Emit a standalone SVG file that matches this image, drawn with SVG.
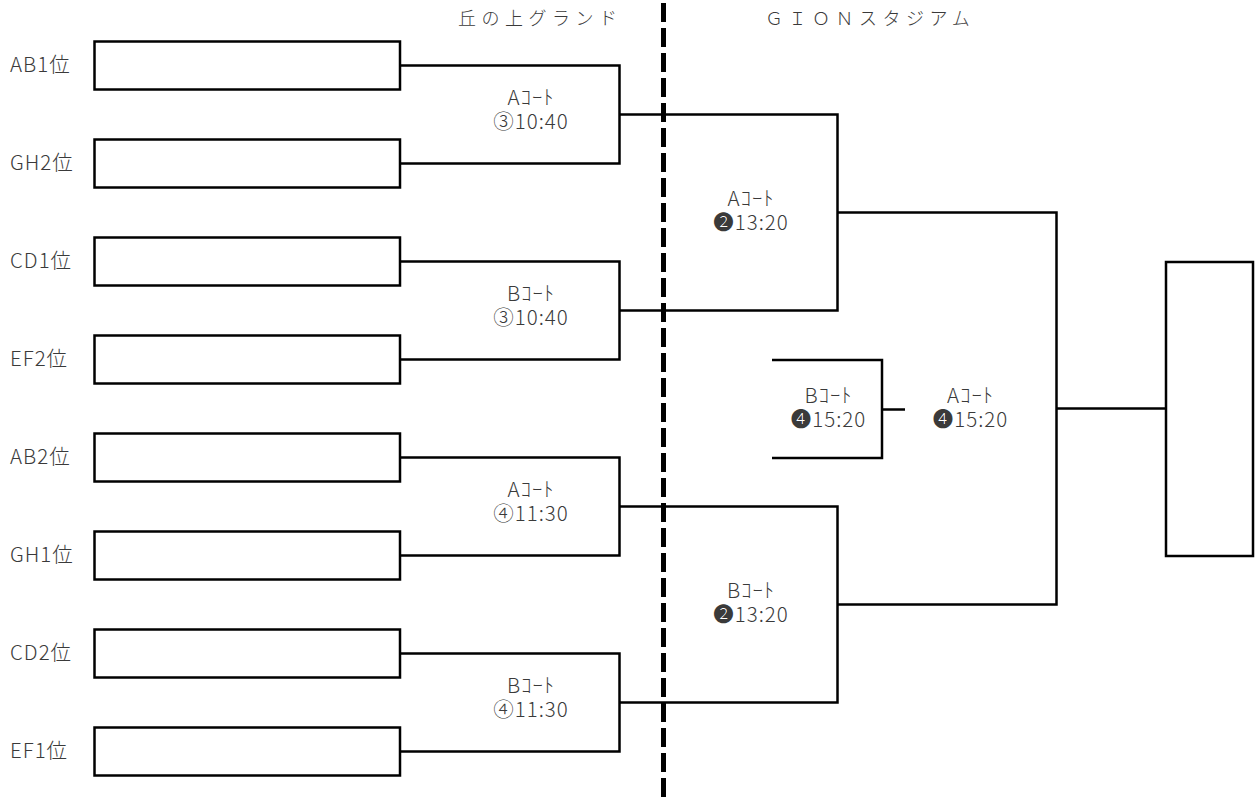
<svg xmlns="http://www.w3.org/2000/svg" width="1255" height="803" viewBox="0 0 1255 803">
<style>
.box{fill:#fff;stroke:#000;stroke-width:2.5}
.ln{fill:none;stroke:#000;stroke-width:2.5}
.dash{fill:none;stroke:#000;stroke-width:5;stroke-dasharray:19 6}
text{font-family:"Noto Sans CJK JP","Noto Sans",sans-serif;fill:#3a3a3a;font-size:20.5px;letter-spacing:1px;font-weight:300}
.lab{text-anchor:start}
.c{text-anchor:middle}
.hd{font-size:18px;letter-spacing:5.5px}
</style>
<rect width="1255" height="803" fill="#fff"/>
<g id="headers">
<text class="hd" x="458" y="25">丘の上グランド</text>
<text class="hd" x="765" y="25">ＧＩＯＮスタジアム</text>
</g>
<g id="connectors">
<path class="dash" d="M663.5 3 V803"/>
<path class="ln" d="M400 65.5 H619.5 V163.5 H400"/>
<path class="ln" d="M400 261.5 H619.5 V359.5 H400"/>
<path class="ln" d="M400 457.5 H619.5 V555.5 H400"/>
<path class="ln" d="M400 653.5 H619.5 V751.5 H400"/>
<path class="ln" d="M619.5 114.5 H837.5 V310.5 H619.5"/>
<path class="ln" d="M619.5 506.5 H837.5 V702.5 H619.5"/>
<path class="ln" d="M837.5 212.5 H1056.5 V604.5 H837.5"/>
<path class="ln" d="M1056.5 408.5 H1166"/>
<path class="ln" d="M772 360 H882 V458 H772"/>
<path class="ln" d="M882 409.5 H905"/>
</g>
<g id="team-AB1"><rect class="box" x="94.5" y="41.5" width="305.5" height="48"/><text class="lab" x="10" y="72">AB1位</text></g>
<g id="team-GH2"><rect class="box" x="94.5" y="139.5" width="305.5" height="48"/><text class="lab" x="10" y="170">GH2位</text></g>
<g id="team-CD1"><rect class="box" x="94.5" y="237.5" width="305.5" height="48"/><text class="lab" x="10" y="268">CD1位</text></g>
<g id="team-EF2"><rect class="box" x="94.5" y="335.5" width="305.5" height="48"/><text class="lab" x="10" y="366">EF2位</text></g>
<g id="team-AB2"><rect class="box" x="94.5" y="433.5" width="305.5" height="48"/><text class="lab" x="10" y="464">AB2位</text></g>
<g id="team-GH1"><rect class="box" x="94.5" y="531.5" width="305.5" height="48"/><text class="lab" x="10" y="562">GH1位</text></g>
<g id="team-CD2"><rect class="box" x="94.5" y="629.5" width="305.5" height="48"/><text class="lab" x="10" y="660">CD2位</text></g>
<g id="team-EF1"><rect class="box" x="94.5" y="727.5" width="305.5" height="48"/><text class="lab" x="10" y="758">EF1位</text></g>
<g id="winner"><rect class="box" x="1166" y="262" width="87" height="294"/></g>
<g id="match-q1"><text class="c" x="531" y="105">Aｺｰﾄ</text><text class="c" x="531" y="129">③10:40</text></g>
<g id="match-q2"><text class="c" x="531" y="301">Bｺｰﾄ</text><text class="c" x="531" y="325">③10:40</text></g>
<g id="match-q3"><text class="c" x="531" y="497">Aｺｰﾄ</text><text class="c" x="531" y="521">④11:30</text></g>
<g id="match-q4"><text class="c" x="531" y="693">Bｺｰﾄ</text><text class="c" x="531" y="717">④11:30</text></g>
<g id="match-s1"><text class="c" x="751" y="206">Aｺｰﾄ</text><text class="c" x="751" y="230">❷13:20</text></g>
<g id="match-s2"><text class="c" x="751" y="598">Bｺｰﾄ</text><text class="c" x="751" y="622">❷13:20</text></g>
<g id="match-3rd"><text class="c" x="828.5" y="403">Bｺｰﾄ</text><text class="c" x="828.5" y="427">❹15:20</text></g>
<g id="match-final"><text class="c" x="970.5" y="403">Aｺｰﾄ</text><text class="c" x="970.5" y="427">❹15:20</text></g>
</svg>
